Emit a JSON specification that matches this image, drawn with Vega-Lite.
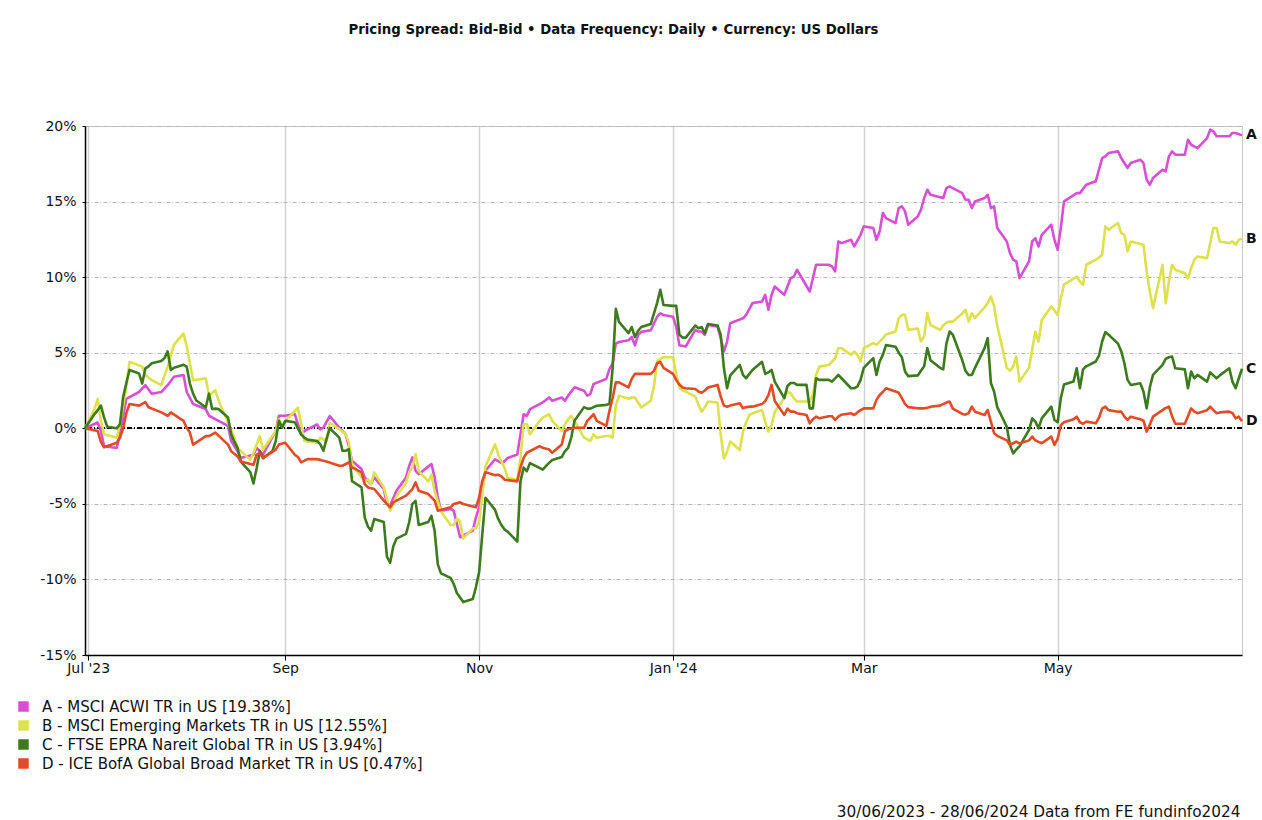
{
"$schema": "https://vega.github.io/schema/vega-lite/v6.json",
"width": 1157, "height": 529,
"autosize": {"type": "none"},
"padding": {"left": 85, "top": 126, "right": 20, "bottom": 165},
"background": "white",
"config": {"font": "DejaVu Sans", "view": {"stroke": "#c8c8c8", "strokeWidth": 1}},
"title": {"text": "Pricing Spread: Bid-Bid • Data Frequency: Daily • Currency: US Dollars", "anchor": "middle", "frame": "group", "dx": -50, "offset": 83, "fontSize": 13.3, "fontWeight": "bold", "font": "DejaVu Sans", "color": "#111"},
"data": {"values": [
{"date":"2023-06-30","series":"A","value":0},{"date":"2023-07-04","series":"A","value":0.38},{"date":"2023-07-05","series":"A","value":-0.18},{"date":"2023-07-06","series":"A","value":-1.19},{"date":"2023-07-10","series":"A","value":-1.3},{"date":"2023-07-11","series":"A","value":-0.4},{"date":"2023-07-13","series":"A","value":1.95},{"date":"2023-07-17","series":"A","value":2.4},{"date":"2023-07-19","series":"A","value":2.85},{"date":"2023-07-21","series":"A","value":2.29},{"date":"2023-07-24","series":"A","value":2.4},{"date":"2023-07-26","series":"A","value":2.85},{"date":"2023-07-28","series":"A","value":3.41},{"date":"2023-07-31","series":"A","value":3.52},{"date":"2023-08-01","series":"A","value":2.4},{"date":"2023-08-03","series":"A","value":1.61},{"date":"2023-08-07","series":"A","value":1.28},{"date":"2023-08-08","series":"A","value":0.83},{"date":"2023-08-10","series":"A","value":0.6},{"date":"2023-08-14","series":"A","value":0.16},{"date":"2023-08-15","series":"A","value":-0.85},{"date":"2023-08-17","series":"A","value":-1.52},{"date":"2023-08-18","series":"A","value":-1.97},{"date":"2023-08-22","series":"A","value":-1.75},{"date":"2023-08-23","series":"A","value":-1.3},{"date":"2023-08-24","series":"A","value":-1.52},{"date":"2023-08-25","series":"A","value":-1.75},{"date":"2023-08-29","series":"A","value":-0.18},{"date":"2023-08-30","series":"A","value":0.83},{"date":"2023-09-01","series":"A","value":0.83},{"date":"2023-09-04","series":"A","value":0.94},{"date":"2023-09-06","series":"A","value":-0.4},{"date":"2023-09-07","series":"A","value":-0.18},{"date":"2023-09-11","series":"A","value":0.26},{"date":"2023-09-12","series":"A","value":-0.07},{"date":"2023-09-13","series":"A","value":0.04},{"date":"2023-09-15","series":"A","value":0.81},{"date":"2023-09-18","series":"A","value":0.04},{"date":"2023-09-20","series":"A","value":-0.4},{"date":"2023-09-21","series":"A","value":-1.16},{"date":"2023-09-22","series":"A","value":-2.15},{"date":"2023-09-25","series":"A","value":-2.7},{"date":"2023-09-26","series":"A","value":-3.25},{"date":"2023-09-28","series":"A","value":-3.69},{"date":"2023-09-29","series":"A","value":-3.25},{"date":"2023-10-02","series":"A","value":-4.02},{"date":"2023-10-03","series":"A","value":-5.01},{"date":"2023-10-04","series":"A","value":-5.1},{"date":"2023-10-06","series":"A","value":-4.13},{"date":"2023-10-09","series":"A","value":-3.25},{"date":"2023-10-10","series":"A","value":-2.48},{"date":"2023-10-11","series":"A","value":-1.93},{"date":"2023-10-12","series":"A","value":-2.81},{"date":"2023-10-13","series":"A","value":-3.03},{"date":"2023-10-17","series":"A","value":-2.37},{"date":"2023-10-18","series":"A","value":-3.25},{"date":"2023-10-19","series":"A","value":-4.57},{"date":"2023-10-20","series":"A","value":-5.45},{"date":"2023-10-23","series":"A","value":-5.34},{"date":"2023-10-24","series":"A","value":-5.45},{"date":"2023-10-25","series":"A","value":-6.33},{"date":"2023-10-26","series":"A","value":-7.21},{"date":"2023-10-30","series":"A","value":-6.77},{"date":"2023-10-31","series":"A","value":-5.89},{"date":"2023-11-01","series":"A","value":-5.23},{"date":"2023-11-02","series":"A","value":-3.91},{"date":"2023-11-03","series":"A","value":-2.81},{"date":"2023-11-06","series":"A","value":-2.05},{"date":"2023-11-08","series":"A","value":-2.29},{"date":"2023-11-09","series":"A","value":-2.18},{"date":"2023-11-10","series":"A","value":-1.96},{"date":"2023-11-13","series":"A","value":-1.73},{"date":"2023-11-14","series":"A","value":-0.4},{"date":"2023-11-15","series":"A","value":0.93},{"date":"2023-11-16","series":"A","value":0.82},{"date":"2023-11-17","series":"A","value":1.27},{"date":"2023-11-20","series":"A","value":1.6},{"date":"2023-11-21","series":"A","value":1.71},{"date":"2023-11-23","series":"A","value":2.04},{"date":"2023-11-24","series":"A","value":1.82},{"date":"2023-11-27","series":"A","value":2.04},{"date":"2023-11-28","series":"A","value":1.82},{"date":"2023-11-29","series":"A","value":2.16},{"date":"2023-12-01","series":"A","value":2.71},{"date":"2023-12-04","series":"A","value":2.49},{"date":"2023-12-05","series":"A","value":2.16},{"date":"2023-12-06","series":"A","value":2.27},{"date":"2023-12-07","series":"A","value":2.93},{"date":"2023-12-11","series":"A","value":3.27},{"date":"2023-12-12","series":"A","value":3.93},{"date":"2023-12-13","series":"A","value":4.27},{"date":"2023-12-14","series":"A","value":5.6},{"date":"2023-12-15","series":"A","value":5.71},{"date":"2023-12-18","series":"A","value":5.82},{"date":"2023-12-19","series":"A","value":6.04},{"date":"2023-12-20","series":"A","value":5.49},{"date":"2023-12-21","series":"A","value":6.16},{"date":"2023-12-22","series":"A","value":6.38},{"date":"2023-12-25","series":"A","value":6.49},{"date":"2023-12-26","series":"A","value":6.93},{"date":"2023-12-27","series":"A","value":7.38},{"date":"2023-12-28","series":"A","value":7.6},{"date":"2023-12-29","series":"A","value":7.49},{"date":"2024-01-01","series":"A","value":7.38},{"date":"2024-01-02","series":"A","value":6.71},{"date":"2024-01-03","series":"A","value":5.49},{"date":"2024-01-05","series":"A","value":5.41},{"date":"2024-01-08","series":"A","value":6.51},{"date":"2024-01-09","series":"A","value":6.4},{"date":"2024-01-10","series":"A","value":6.4},{"date":"2024-01-11","series":"A","value":6.18},{"date":"2024-01-12","series":"A","value":6.84},{"date":"2024-01-15","series":"A","value":6.73},{"date":"2024-01-16","series":"A","value":5.96},{"date":"2024-01-17","series":"A","value":5.08},{"date":"2024-01-18","series":"A","value":5.74},{"date":"2024-01-19","series":"A","value":6.95},{"date":"2024-01-23","series":"A","value":7.28},{"date":"2024-01-24","series":"A","value":7.51},{"date":"2024-01-26","series":"A","value":8.28},{"date":"2024-01-29","series":"A","value":8.39},{"date":"2024-01-30","series":"A","value":8.83},{"date":"2024-01-31","series":"A","value":7.84},{"date":"2024-02-01","series":"A","value":8.83},{"date":"2024-02-02","series":"A","value":9.38},{"date":"2024-02-05","series":"A","value":8.83},{"date":"2024-02-07","series":"A","value":9.93},{"date":"2024-02-08","series":"A","value":10.04},{"date":"2024-02-09","series":"A","value":10.49},{"date":"2024-02-13","series":"A","value":9.05},{"date":"2024-02-14","series":"A","value":9.93},{"date":"2024-02-15","series":"A","value":10.82},{"date":"2024-02-19","series":"A","value":10.82},{"date":"2024-02-20","series":"A","value":10.71},{"date":"2024-02-21","series":"A","value":10.38},{"date":"2024-02-22","series":"A","value":12.36},{"date":"2024-02-23","series":"A","value":12.25},{"date":"2024-02-26","series":"A","value":12.47},{"date":"2024-02-27","series":"A","value":12.03},{"date":"2024-02-29","series":"A","value":12.8},{"date":"2024-03-01","series":"A","value":13.36},{"date":"2024-03-04","series":"A","value":13.25},{"date":"2024-03-05","series":"A","value":12.47},{"date":"2024-03-06","series":"A","value":13.02},{"date":"2024-03-07","series":"A","value":14.24},{"date":"2024-03-08","series":"A","value":13.91},{"date":"2024-03-11","series":"A","value":13.58},{"date":"2024-03-12","series":"A","value":14.57},{"date":"2024-03-13","series":"A","value":14.68},{"date":"2024-03-14","series":"A","value":14.35},{"date":"2024-03-15","series":"A","value":13.47},{"date":"2024-03-18","series":"A","value":14.02},{"date":"2024-03-19","series":"A","value":14.46},{"date":"2024-03-20","series":"A","value":15.23},{"date":"2024-03-21","series":"A","value":15.78},{"date":"2024-03-22","series":"A","value":15.45},{"date":"2024-03-26","series":"A","value":15.23},{"date":"2024-03-27","series":"A","value":15.89},{"date":"2024-03-28","series":"A","value":16.0},{"date":"2024-03-29","series":"A","value":15.89},{"date":"2024-04-01","series":"A","value":15.56},{"date":"2024-04-02","series":"A","value":15.12},{"date":"2024-04-03","series":"A","value":15.12},{"date":"2024-04-04","series":"A","value":14.57},{"date":"2024-04-05","series":"A","value":15.01},{"date":"2024-04-08","series":"A","value":15.23},{"date":"2024-04-09","series":"A","value":15.45},{"date":"2024-04-10","series":"A","value":14.57},{"date":"2024-04-11","series":"A","value":14.68},{"date":"2024-04-12","series":"A","value":13.25},{"date":"2024-04-15","series":"A","value":12.36},{"date":"2024-04-16","series":"A","value":11.59},{"date":"2024-04-17","series":"A","value":11.15},{"date":"2024-04-18","series":"A","value":11.04},{"date":"2024-04-19","series":"A","value":9.93},{"date":"2024-04-22","series":"A","value":11.04},{"date":"2024-04-23","series":"A","value":12.36},{"date":"2024-04-24","series":"A","value":12.58},{"date":"2024-04-25","series":"A","value":12.03},{"date":"2024-04-26","series":"A","value":12.8},{"date":"2024-04-29","series":"A","value":13.47},{"date":"2024-04-30","series":"A","value":12.47},{"date":"2024-05-01","series":"A","value":11.81},{"date":"2024-05-02","series":"A","value":13.25},{"date":"2024-05-03","series":"A","value":15.01},{"date":"2024-05-07","series":"A","value":15.56},{"date":"2024-05-08","series":"A","value":15.56},{"date":"2024-05-10","series":"A","value":16.11},{"date":"2024-05-13","series":"A","value":16.34},{"date":"2024-05-14","series":"A","value":17.11},{"date":"2024-05-15","series":"A","value":17.88},{"date":"2024-05-16","series":"A","value":17.99},{"date":"2024-05-17","series":"A","value":18.21},{"date":"2024-05-20","series":"A","value":18.32},{"date":"2024-05-21","series":"A","value":17.88},{"date":"2024-05-23","series":"A","value":17.22},{"date":"2024-05-24","series":"A","value":17.55},{"date":"2024-05-27","series":"A","value":17.77},{"date":"2024-05-28","series":"A","value":17.55},{"date":"2024-05-29","series":"A","value":16.45},{"date":"2024-05-30","series":"A","value":16.11},{"date":"2024-05-31","series":"A","value":16.56},{"date":"2024-06-03","series":"A","value":17.11},{"date":"2024-06-04","series":"A","value":17.0},{"date":"2024-06-05","series":"A","value":17.99},{"date":"2024-06-06","series":"A","value":18.32},{"date":"2024-06-07","series":"A","value":18.1},{"date":"2024-06-10","series":"A","value":18.1},{"date":"2024-06-11","series":"A","value":19.09},{"date":"2024-06-12","series":"A","value":18.76},{"date":"2024-06-14","series":"A","value":18.54},{"date":"2024-06-17","series":"A","value":19.2},{"date":"2024-06-18","series":"A","value":19.76},{"date":"2024-06-19","series":"A","value":19.65},{"date":"2024-06-20","series":"A","value":19.32},{"date":"2024-06-24","series":"A","value":19.32},{"date":"2024-06-25","series":"A","value":19.54},{"date":"2024-06-26","series":"A","value":19.54},{"date":"2024-06-28","series":"A","value":19.38},
{"date":"2023-06-30","series":"B","value":0},{"date":"2023-07-03","series":"B","value":1.28},{"date":"2023-07-04","series":"B","value":1.95},{"date":"2023-07-05","series":"B","value":0.49},{"date":"2023-07-06","series":"B","value":-0.4},{"date":"2023-07-10","series":"B","value":-0.63},{"date":"2023-07-11","series":"B","value":0.27},{"date":"2023-07-13","series":"B","value":2.73},{"date":"2023-07-14","series":"B","value":4.4},{"date":"2023-07-18","series":"B","value":4.08},{"date":"2023-07-19","series":"B","value":3.52},{"date":"2023-07-21","series":"B","value":3.18},{"date":"2023-07-24","series":"B","value":2.85},{"date":"2023-07-26","series":"B","value":4.08},{"date":"2023-07-28","series":"B","value":5.54},{"date":"2023-07-31","series":"B","value":6.28},{"date":"2023-08-01","series":"B","value":5.43},{"date":"2023-08-03","series":"B","value":3.18},{"date":"2023-08-07","series":"B","value":3.3},{"date":"2023-08-08","series":"B","value":2.17},{"date":"2023-08-10","series":"B","value":2.51},{"date":"2023-08-11","series":"B","value":1.84},{"date":"2023-08-14","series":"B","value":0.38},{"date":"2023-08-16","series":"B","value":-0.63},{"date":"2023-08-17","series":"B","value":-1.3},{"date":"2023-08-21","series":"B","value":-2.09},{"date":"2023-08-22","series":"B","value":-1.64},{"date":"2023-08-24","series":"B","value":-0.52},{"date":"2023-08-25","series":"B","value":-1.41},{"date":"2023-08-29","series":"B","value":-0.18},{"date":"2023-08-30","series":"B","value":0.6},{"date":"2023-08-31","series":"B","value":0.2},{"date":"2023-09-01","series":"B","value":0.48},{"date":"2023-09-05","series":"B","value":1.36},{"date":"2023-09-06","series":"B","value":0.26},{"date":"2023-09-07","series":"B","value":-0.84},{"date":"2023-09-11","series":"B","value":-0.95},{"date":"2023-09-12","series":"B","value":-0.62},{"date":"2023-09-14","series":"B","value":-0.84},{"date":"2023-09-15","series":"B","value":0.37},{"date":"2023-09-18","series":"B","value":-0.07},{"date":"2023-09-20","series":"B","value":-0.4},{"date":"2023-09-21","series":"B","value":-0.95},{"date":"2023-09-22","series":"B","value":-2.37},{"date":"2023-09-25","series":"B","value":-3.25},{"date":"2023-09-26","series":"B","value":-3.58},{"date":"2023-09-27","series":"B","value":-3.36},{"date":"2023-09-28","series":"B","value":-3.69},{"date":"2023-09-29","series":"B","value":-2.92},{"date":"2023-10-02","series":"B","value":-3.91},{"date":"2023-10-04","series":"B","value":-5.45},{"date":"2023-10-05","series":"B","value":-5.0},{"date":"2023-10-06","series":"B","value":-4.5},{"date":"2023-10-09","series":"B","value":-3.6},{"date":"2023-10-10","series":"B","value":-2.9},{"date":"2023-10-11","series":"B","value":-2.6},{"date":"2023-10-12","series":"B","value":-1.72},{"date":"2023-10-13","series":"B","value":-2.84},{"date":"2023-10-16","series":"B","value":-3.51},{"date":"2023-10-17","series":"B","value":-3.07},{"date":"2023-10-18","series":"B","value":-4.18},{"date":"2023-10-20","series":"B","value":-5.51},{"date":"2023-10-23","series":"B","value":-6.4},{"date":"2023-10-24","series":"B","value":-6.4},{"date":"2023-10-25","series":"B","value":-5.96},{"date":"2023-10-26","series":"B","value":-6.18},{"date":"2023-10-27","series":"B","value":-7.29},{"date":"2023-10-30","series":"B","value":-6.62},{"date":"2023-10-31","series":"B","value":-6.62},{"date":"2023-11-01","series":"B","value":-6.18},{"date":"2023-11-02","series":"B","value":-4.4},{"date":"2023-11-03","series":"B","value":-2.51},{"date":"2023-11-06","series":"B","value":-1.07},{"date":"2023-11-07","series":"B","value":-1.73},{"date":"2023-11-08","series":"B","value":-2.18},{"date":"2023-11-09","series":"B","value":-2.62},{"date":"2023-11-10","series":"B","value":-3.29},{"date":"2023-11-13","series":"B","value":-3.4},{"date":"2023-11-14","series":"B","value":-1.96},{"date":"2023-11-15","series":"B","value":0.27},{"date":"2023-11-16","series":"B","value":0.27},{"date":"2023-11-17","series":"B","value":-0.4},{"date":"2023-11-20","series":"B","value":0.49},{"date":"2023-11-21","series":"B","value":0.71},{"date":"2023-11-22","series":"B","value":0.82},{"date":"2023-11-23","series":"B","value":0.93},{"date":"2023-11-24","series":"B","value":0.49},{"date":"2023-11-27","series":"B","value":-0.18},{"date":"2023-11-28","series":"B","value":0.27},{"date":"2023-11-29","series":"B","value":0.6},{"date":"2023-11-30","series":"B","value":0.82},{"date":"2023-12-01","series":"B","value":0.49},{"date":"2023-12-04","series":"B","value":-0.62},{"date":"2023-12-06","series":"B","value":-0.84},{"date":"2023-12-07","series":"B","value":-0.4},{"date":"2023-12-08","series":"B","value":-0.62},{"date":"2023-12-11","series":"B","value":-0.51},{"date":"2023-12-12","series":"B","value":-0.51},{"date":"2023-12-13","series":"B","value":-0.62},{"date":"2023-12-14","series":"B","value":1.5},{"date":"2023-12-15","series":"B","value":2.16},{"date":"2023-12-18","series":"B","value":1.95},{"date":"2023-12-19","series":"B","value":2.04},{"date":"2023-12-20","series":"B","value":2.04},{"date":"2023-12-21","series":"B","value":1.71},{"date":"2023-12-22","series":"B","value":1.38},{"date":"2023-12-25","series":"B","value":1.82},{"date":"2023-12-26","series":"B","value":2.8},{"date":"2023-12-27","series":"B","value":4.42},{"date":"2023-12-28","series":"B","value":4.6},{"date":"2023-12-29","series":"B","value":4.71},{"date":"2024-01-01","series":"B","value":4.7},{"date":"2024-01-02","series":"B","value":3.6},{"date":"2024-01-03","series":"B","value":2.7},{"date":"2024-01-04","series":"B","value":2.5},{"date":"2024-01-05","series":"B","value":2.43},{"date":"2024-01-08","series":"B","value":2.1},{"date":"2024-01-09","series":"B","value":1.55},{"date":"2024-01-10","series":"B","value":1.1},{"date":"2024-01-11","series":"B","value":1.4},{"date":"2024-01-12","series":"B","value":1.77},{"date":"2024-01-15","series":"B","value":1.7},{"date":"2024-01-16","series":"B","value":-0.44},{"date":"2024-01-17","series":"B","value":-1.99},{"date":"2024-01-18","series":"B","value":-1.55},{"date":"2024-01-19","series":"B","value":-0.88},{"date":"2024-01-22","series":"B","value":-1.44},{"date":"2024-01-23","series":"B","value":-0.22},{"date":"2024-01-24","series":"B","value":0.4},{"date":"2024-01-25","series":"B","value":0.88},{"date":"2024-01-26","series":"B","value":0.99},{"date":"2024-01-29","series":"B","value":1.21},{"date":"2024-01-30","series":"B","value":0.44},{"date":"2024-01-31","series":"B","value":-0.22},{"date":"2024-02-01","series":"B","value":0.22},{"date":"2024-02-02","series":"B","value":1.1},{"date":"2024-02-05","series":"B","value":1.99},{"date":"2024-02-06","series":"B","value":2.43},{"date":"2024-02-07","series":"B","value":2.33},{"date":"2024-02-08","series":"B","value":1.99},{"date":"2024-02-09","series":"B","value":1.77},{"date":"2024-02-12","series":"B","value":1.77},{"date":"2024-02-13","series":"B","value":1.8},{"date":"2024-02-14","series":"B","value":2.21},{"date":"2024-02-15","series":"B","value":3.53},{"date":"2024-02-16","series":"B","value":4.08},{"date":"2024-02-19","series":"B","value":4.19},{"date":"2024-02-20","series":"B","value":4.4},{"date":"2024-02-21","series":"B","value":4.64},{"date":"2024-02-22","series":"B","value":5.3},{"date":"2024-02-23","series":"B","value":5.3},{"date":"2024-02-26","series":"B","value":4.86},{"date":"2024-02-27","series":"B","value":5.08},{"date":"2024-02-28","series":"B","value":4.86},{"date":"2024-02-29","series":"B","value":4.42},{"date":"2024-03-01","series":"B","value":5.3},{"date":"2024-03-04","series":"B","value":5.63},{"date":"2024-03-05","series":"B","value":5.52},{"date":"2024-03-06","series":"B","value":5.74},{"date":"2024-03-07","series":"B","value":5.96},{"date":"2024-03-08","series":"B","value":6.2},{"date":"2024-03-11","series":"B","value":6.4},{"date":"2024-03-12","series":"B","value":7.28},{"date":"2024-03-13","series":"B","value":7.51},{"date":"2024-03-14","series":"B","value":7.51},{"date":"2024-03-15","series":"B","value":6.51},{"date":"2024-03-18","series":"B","value":6.6},{"date":"2024-03-19","series":"B","value":5.74},{"date":"2024-03-20","series":"B","value":6.07},{"date":"2024-03-21","series":"B","value":7.62},{"date":"2024-03-22","series":"B","value":6.84},{"date":"2024-03-25","series":"B","value":6.51},{"date":"2024-03-26","series":"B","value":6.8},{"date":"2024-03-27","series":"B","value":7.0},{"date":"2024-03-28","series":"B","value":7.06},{"date":"2024-03-29","series":"B","value":7.06},{"date":"2024-04-01","series":"B","value":7.6},{"date":"2024-04-02","series":"B","value":7.84},{"date":"2024-04-03","series":"B","value":7.06},{"date":"2024-04-04","series":"B","value":7.62},{"date":"2024-04-05","series":"B","value":7.3},{"date":"2024-04-08","series":"B","value":8.0},{"date":"2024-04-09","series":"B","value":8.28},{"date":"2024-04-10","series":"B","value":8.72},{"date":"2024-04-11","series":"B","value":8.1},{"date":"2024-04-12","series":"B","value":6.8},{"date":"2024-04-15","series":"B","value":4.0},{"date":"2024-04-16","series":"B","value":3.8},{"date":"2024-04-17","series":"B","value":4.08},{"date":"2024-04-18","series":"B","value":4.75},{"date":"2024-04-19","series":"B","value":3.09},{"date":"2024-04-22","series":"B","value":4.0},{"date":"2024-04-23","series":"B","value":5.2},{"date":"2024-04-24","series":"B","value":6.4},{"date":"2024-04-25","series":"B","value":5.74},{"date":"2024-04-26","series":"B","value":7.17},{"date":"2024-04-29","series":"B","value":8.06},{"date":"2024-04-30","series":"B","value":7.8},{"date":"2024-05-01","series":"B","value":7.5},{"date":"2024-05-02","series":"B","value":8.61},{"date":"2024-05-03","series":"B","value":9.5},{"date":"2024-05-06","series":"B","value":9.9},{"date":"2024-05-07","series":"B","value":10.04},{"date":"2024-05-08","series":"B","value":9.71},{"date":"2024-05-09","series":"B","value":9.49},{"date":"2024-05-10","series":"B","value":10.82},{"date":"2024-05-13","series":"B","value":11.15},{"date":"2024-05-14","series":"B","value":11.3},{"date":"2024-05-15","series":"B","value":11.48},{"date":"2024-05-16","series":"B","value":13.36},{"date":"2024-05-17","series":"B","value":13.14},{"date":"2024-05-20","series":"B","value":13.58},{"date":"2024-05-21","series":"B","value":12.91},{"date":"2024-05-22","series":"B","value":12.8},{"date":"2024-05-23","series":"B","value":11.7},{"date":"2024-05-24","series":"B","value":12.36},{"date":"2024-05-28","series":"B","value":12.14},{"date":"2024-05-29","series":"B","value":10.38},{"date":"2024-05-30","series":"B","value":9.05},{"date":"2024-05-31","series":"B","value":7.95},{"date":"2024-06-03","series":"B","value":10.82},{"date":"2024-06-04","series":"B","value":8.28},{"date":"2024-06-05","series":"B","value":9.71},{"date":"2024-06-06","series":"B","value":10.82},{"date":"2024-06-07","series":"B","value":10.49},{"date":"2024-06-10","series":"B","value":10.26},{"date":"2024-06-11","series":"B","value":9.93},{"date":"2024-06-12","series":"B","value":10.6},{"date":"2024-06-13","series":"B","value":11.15},{"date":"2024-06-14","series":"B","value":11.37},{"date":"2024-06-17","series":"B","value":11.26},{"date":"2024-06-19","series":"B","value":13.25},{"date":"2024-06-20","series":"B","value":13.25},{"date":"2024-06-21","series":"B","value":12.36},{"date":"2024-06-24","series":"B","value":12.25},{"date":"2024-06-25","series":"B","value":12.36},{"date":"2024-06-26","series":"B","value":12.14},{"date":"2024-06-27","series":"B","value":12.47},{"date":"2024-06-28","series":"B","value":12.55},
{"date":"2023-06-30","series":"C","value":0},{"date":"2023-07-03","series":"C","value":0.94},{"date":"2023-07-04","series":"C","value":1.2},{"date":"2023-07-05","series":"C","value":1.5},{"date":"2023-07-06","series":"C","value":0.72},{"date":"2023-07-07","series":"C","value":0.1},{"date":"2023-07-10","series":"C","value":0.0},{"date":"2023-07-11","series":"C","value":0.27},{"date":"2023-07-12","series":"C","value":2.06},{"date":"2023-07-13","series":"C","value":3.0},{"date":"2023-07-14","series":"C","value":3.86},{"date":"2023-07-17","series":"C","value":3.63},{"date":"2023-07-18","series":"C","value":2.96},{"date":"2023-07-19","series":"C","value":3.97},{"date":"2023-07-20","series":"C","value":4.1},{"date":"2023-07-21","series":"C","value":4.3},{"date":"2023-07-24","series":"C","value":4.45},{"date":"2023-07-25","series":"C","value":4.64},{"date":"2023-07-26","series":"C","value":5.09},{"date":"2023-07-27","series":"C","value":3.86},{"date":"2023-07-28","series":"C","value":4.0},{"date":"2023-07-31","series":"C","value":4.2},{"date":"2023-08-01","series":"C","value":4.08},{"date":"2023-08-02","series":"C","value":2.96},{"date":"2023-08-03","series":"C","value":2.3},{"date":"2023-08-04","series":"C","value":1.84},{"date":"2023-08-07","series":"C","value":1.39},{"date":"2023-08-08","series":"C","value":2.29},{"date":"2023-08-09","series":"C","value":1.28},{"date":"2023-08-10","series":"C","value":1.3},{"date":"2023-08-11","series":"C","value":1.28},{"date":"2023-08-14","series":"C","value":0.72},{"date":"2023-08-15","series":"C","value":-0.4},{"date":"2023-08-16","series":"C","value":-0.9},{"date":"2023-08-17","series":"C","value":-1.3},{"date":"2023-08-18","series":"C","value":-2.2},{"date":"2023-08-21","series":"C","value":-2.9},{"date":"2023-08-22","series":"C","value":-3.65},{"date":"2023-08-23","series":"C","value":-2.65},{"date":"2023-08-24","series":"C","value":-1.52},{"date":"2023-08-25","series":"C","value":-1.97},{"date":"2023-08-28","series":"C","value":-1.5},{"date":"2023-08-29","series":"C","value":-0.85},{"date":"2023-08-30","series":"C","value":0.49},{"date":"2023-08-31","series":"C","value":0.04},{"date":"2023-09-01","series":"C","value":0.49},{"date":"2023-09-04","series":"C","value":0.4},{"date":"2023-09-05","series":"C","value":0.0},{"date":"2023-09-06","series":"C","value":-0.4},{"date":"2023-09-07","series":"C","value":-0.62},{"date":"2023-09-08","series":"C","value":-0.75},{"date":"2023-09-11","series":"C","value":-0.84},{"date":"2023-09-12","series":"C","value":-1.05},{"date":"2023-09-13","series":"C","value":-1.49},{"date":"2023-09-14","series":"C","value":-0.7},{"date":"2023-09-15","series":"C","value":0.0},{"date":"2023-09-18","series":"C","value":-0.62},{"date":"2023-09-19","series":"C","value":-1.49},{"date":"2023-09-20","series":"C","value":-1.49},{"date":"2023-09-21","series":"C","value":-1.38},{"date":"2023-09-22","series":"C","value":-3.5},{"date":"2023-09-25","series":"C","value":-3.91},{"date":"2023-09-26","series":"C","value":-5.89},{"date":"2023-09-27","series":"C","value":-6.5},{"date":"2023-09-28","series":"C","value":-6.77},{"date":"2023-09-29","series":"C","value":-6.0},{"date":"2023-10-02","series":"C","value":-6.2},{"date":"2023-10-03","series":"C","value":-8.5},{"date":"2023-10-04","series":"C","value":-8.9},{"date":"2023-10-05","series":"C","value":-7.8},{"date":"2023-10-06","series":"C","value":-7.3},{"date":"2023-10-09","series":"C","value":-6.99},{"date":"2023-10-10","series":"C","value":-6.2},{"date":"2023-10-11","series":"C","value":-5.0},{"date":"2023-10-12","series":"C","value":-4.8},{"date":"2023-10-13","series":"C","value":-6.4},{"date":"2023-10-16","series":"C","value":-6.2},{"date":"2023-10-17","series":"C","value":-5.8},{"date":"2023-10-18","series":"C","value":-6.8},{"date":"2023-10-19","series":"C","value":-9.0},{"date":"2023-10-20","series":"C","value":-9.6},{"date":"2023-10-23","series":"C","value":-9.9},{"date":"2023-10-24","series":"C","value":-10.3},{"date":"2023-10-25","series":"C","value":-10.9},{"date":"2023-10-26","series":"C","value":-11.2},{"date":"2023-10-27","series":"C","value":-11.5},{"date":"2023-10-30","series":"C","value":-11.3},{"date":"2023-10-31","series":"C","value":-10.5},{"date":"2023-11-01","series":"C","value":-9.5},{"date":"2023-11-02","series":"C","value":-7.0},{"date":"2023-11-03","series":"C","value":-4.6},{"date":"2023-11-06","series":"C","value":-5.4},{"date":"2023-11-07","series":"C","value":-6.0},{"date":"2023-11-08","series":"C","value":-6.4},{"date":"2023-11-09","series":"C","value":-6.7},{"date":"2023-11-10","series":"C","value":-6.84},{"date":"2023-11-13","series":"C","value":-7.5},{"date":"2023-11-14","series":"C","value":-3.5},{"date":"2023-11-15","series":"C","value":-2.6},{"date":"2023-11-16","series":"C","value":-2.84},{"date":"2023-11-17","series":"C","value":-2.3},{"date":"2023-11-20","series":"C","value":-2.62},{"date":"2023-11-21","series":"C","value":-2.73},{"date":"2023-11-22","series":"C","value":-2.5},{"date":"2023-11-23","series":"C","value":-2.29},{"date":"2023-11-24","series":"C","value":-2.1},{"date":"2023-11-27","series":"C","value":-1.9},{"date":"2023-11-28","series":"C","value":-1.51},{"date":"2023-11-29","series":"C","value":-1.3},{"date":"2023-11-30","series":"C","value":-0.6},{"date":"2023-12-01","series":"C","value":0.5},{"date":"2023-12-04","series":"C","value":1.4},{"date":"2023-12-05","series":"C","value":1.3},{"date":"2023-12-06","series":"C","value":1.3},{"date":"2023-12-07","series":"C","value":1.4},{"date":"2023-12-08","series":"C","value":1.49},{"date":"2023-12-11","series":"C","value":1.55},{"date":"2023-12-12","series":"C","value":1.6},{"date":"2023-12-13","series":"C","value":4.0},{"date":"2023-12-14","series":"C","value":7.9},{"date":"2023-12-15","series":"C","value":7.04},{"date":"2023-12-18","series":"C","value":6.3},{"date":"2023-12-19","series":"C","value":6.7},{"date":"2023-12-20","series":"C","value":6.04},{"date":"2023-12-21","series":"C","value":6.45},{"date":"2023-12-22","series":"C","value":6.7},{"date":"2023-12-25","series":"C","value":6.9},{"date":"2023-12-26","series":"C","value":7.6},{"date":"2023-12-27","series":"C","value":8.3},{"date":"2023-12-28","series":"C","value":9.16},{"date":"2023-12-29","series":"C","value":8.16},{"date":"2024-01-01","series":"C","value":8.1},{"date":"2024-01-02","series":"C","value":8.1},{"date":"2024-01-03","series":"C","value":6.2},{"date":"2024-01-04","series":"C","value":6.0},{"date":"2024-01-05","series":"C","value":6.0},{"date":"2024-01-08","series":"C","value":6.8},{"date":"2024-01-09","series":"C","value":6.62},{"date":"2024-01-10","series":"C","value":6.7},{"date":"2024-01-11","series":"C","value":6.29},{"date":"2024-01-12","series":"C","value":6.9},{"date":"2024-01-15","series":"C","value":6.8},{"date":"2024-01-16","series":"C","value":6.2},{"date":"2024-01-17","series":"C","value":4.0},{"date":"2024-01-18","series":"C","value":2.65},{"date":"2024-01-19","series":"C","value":3.5},{"date":"2024-01-22","series":"C","value":4.19},{"date":"2024-01-23","series":"C","value":3.53},{"date":"2024-01-24","series":"C","value":3.31},{"date":"2024-01-25","series":"C","value":3.6},{"date":"2024-01-26","series":"C","value":3.86},{"date":"2024-01-29","series":"C","value":4.4},{"date":"2024-01-30","series":"C","value":3.6},{"date":"2024-01-31","series":"C","value":3.7},{"date":"2024-02-01","series":"C","value":3.86},{"date":"2024-02-02","series":"C","value":3.09},{"date":"2024-02-05","series":"C","value":2.0},{"date":"2024-02-06","series":"C","value":2.8},{"date":"2024-02-07","series":"C","value":3.0},{"date":"2024-02-08","series":"C","value":3.0},{"date":"2024-02-09","series":"C","value":2.87},{"date":"2024-02-12","series":"C","value":2.87},{"date":"2024-02-13","series":"C","value":1.32},{"date":"2024-02-14","series":"C","value":1.32},{"date":"2024-02-15","series":"C","value":3.31},{"date":"2024-02-16","series":"C","value":3.2},{"date":"2024-02-19","series":"C","value":3.2},{"date":"2024-02-20","series":"C","value":3.09},{"date":"2024-02-21","series":"C","value":3.3},{"date":"2024-02-22","series":"C","value":3.53},{"date":"2024-02-23","series":"C","value":3.31},{"date":"2024-02-26","series":"C","value":2.65},{"date":"2024-02-27","series":"C","value":2.65},{"date":"2024-02-28","series":"C","value":2.76},{"date":"2024-02-29","series":"C","value":3.2},{"date":"2024-03-01","series":"C","value":4.0},{"date":"2024-03-04","series":"C","value":4.64},{"date":"2024-03-05","series":"C","value":3.53},{"date":"2024-03-06","series":"C","value":4.42},{"date":"2024-03-07","series":"C","value":4.86},{"date":"2024-03-08","series":"C","value":5.5},{"date":"2024-03-11","series":"C","value":5.4},{"date":"2024-03-12","series":"C","value":5.0},{"date":"2024-03-13","series":"C","value":4.7},{"date":"2024-03-14","series":"C","value":3.75},{"date":"2024-03-15","series":"C","value":3.45},{"date":"2024-03-18","series":"C","value":3.5},{"date":"2024-03-19","series":"C","value":3.8},{"date":"2024-03-20","series":"C","value":4.1},{"date":"2024-03-21","series":"C","value":5.3},{"date":"2024-03-22","series":"C","value":4.5},{"date":"2024-03-25","series":"C","value":4.0},{"date":"2024-03-26","series":"C","value":3.9},{"date":"2024-03-27","series":"C","value":5.6},{"date":"2024-03-28","series":"C","value":6.4},{"date":"2024-03-29","series":"C","value":6.2},{"date":"2024-04-01","series":"C","value":4.5},{"date":"2024-04-02","series":"C","value":3.8},{"date":"2024-04-03","series":"C","value":3.53},{"date":"2024-04-04","series":"C","value":3.53},{"date":"2024-04-05","series":"C","value":4.0},{"date":"2024-04-08","series":"C","value":5.3},{"date":"2024-04-09","series":"C","value":5.96},{"date":"2024-04-10","series":"C","value":3.0},{"date":"2024-04-11","series":"C","value":2.43},{"date":"2024-04-12","series":"C","value":1.4},{"date":"2024-04-15","series":"C","value":0.1},{"date":"2024-04-16","series":"C","value":-1.1},{"date":"2024-04-17","series":"C","value":-1.66},{"date":"2024-04-18","series":"C","value":-1.4},{"date":"2024-04-19","series":"C","value":-1.2},{"date":"2024-04-22","series":"C","value":-0.1},{"date":"2024-04-23","series":"C","value":0.66},{"date":"2024-04-24","series":"C","value":0.44},{"date":"2024-04-25","series":"C","value":0.0},{"date":"2024-04-26","series":"C","value":0.66},{"date":"2024-04-29","series":"C","value":1.43},{"date":"2024-04-30","series":"C","value":0.55},{"date":"2024-05-01","series":"C","value":0.4},{"date":"2024-05-02","series":"C","value":2.0},{"date":"2024-05-03","series":"C","value":2.9},{"date":"2024-05-06","series":"C","value":3.1},{"date":"2024-05-07","series":"C","value":3.97},{"date":"2024-05-08","series":"C","value":2.65},{"date":"2024-05-09","series":"C","value":3.9},{"date":"2024-05-10","series":"C","value":4.1},{"date":"2024-05-13","series":"C","value":4.42},{"date":"2024-05-14","series":"C","value":4.8},{"date":"2024-05-15","series":"C","value":5.74},{"date":"2024-05-16","series":"C","value":6.36},{"date":"2024-05-17","series":"C","value":6.2},{"date":"2024-05-20","series":"C","value":5.6},{"date":"2024-05-21","series":"C","value":5.1},{"date":"2024-05-22","series":"C","value":4.3},{"date":"2024-05-23","series":"C","value":3.2},{"date":"2024-05-24","series":"C","value":2.87},{"date":"2024-05-27","series":"C","value":2.98},{"date":"2024-05-28","series":"C","value":2.43},{"date":"2024-05-29","series":"C","value":1.32},{"date":"2024-05-30","series":"C","value":2.7},{"date":"2024-05-31","series":"C","value":3.53},{"date":"2024-06-03","series":"C","value":4.19},{"date":"2024-06-04","series":"C","value":4.6},{"date":"2024-06-05","series":"C","value":4.7},{"date":"2024-06-06","series":"C","value":4.75},{"date":"2024-06-07","series":"C","value":3.97},{"date":"2024-06-10","series":"C","value":3.9},{"date":"2024-06-11","series":"C","value":2.65},{"date":"2024-06-12","series":"C","value":3.75},{"date":"2024-06-13","series":"C","value":3.31},{"date":"2024-06-14","series":"C","value":3.53},{"date":"2024-06-17","series":"C","value":3.09},{"date":"2024-06-18","series":"C","value":3.7},{"date":"2024-06-19","series":"C","value":3.5},{"date":"2024-06-20","series":"C","value":3.3},{"date":"2024-06-21","series":"C","value":3.5},{"date":"2024-06-24","series":"C","value":3.97},{"date":"2024-06-25","series":"C","value":3.09},{"date":"2024-06-26","series":"C","value":2.65},{"date":"2024-06-27","series":"C","value":3.31},{"date":"2024-06-28","series":"C","value":3.94},
{"date":"2023-06-30","series":"D","value":0},{"date":"2023-07-04","series":"D","value":-0.18},{"date":"2023-07-05","series":"D","value":-0.9},{"date":"2023-07-06","series":"D","value":-1.26},{"date":"2023-07-10","series":"D","value":-0.96},{"date":"2023-07-11","series":"D","value":-0.63},{"date":"2023-07-12","series":"D","value":0.0},{"date":"2023-07-13","series":"D","value":1.0},{"date":"2023-07-14","series":"D","value":1.61},{"date":"2023-07-17","series":"D","value":1.5},{"date":"2023-07-19","series":"D","value":1.73},{"date":"2023-07-20","series":"D","value":1.39},{"date":"2023-07-24","series":"D","value":1.05},{"date":"2023-07-26","series":"D","value":0.83},{"date":"2023-07-27","series":"D","value":1.05},{"date":"2023-07-31","series":"D","value":0.49},{"date":"2023-08-01","series":"D","value":0.04},{"date":"2023-08-02","series":"D","value":-0.29},{"date":"2023-08-03","series":"D","value":-1.08},{"date":"2023-08-07","series":"D","value":-0.52},{"date":"2023-08-08","series":"D","value":-0.52},{"date":"2023-08-10","series":"D","value":-0.29},{"date":"2023-08-14","series":"D","value":-1.08},{"date":"2023-08-15","series":"D","value":-1.52},{"date":"2023-08-17","series":"D","value":-1.86},{"date":"2023-08-18","series":"D","value":-2.2},{"date":"2023-08-22","series":"D","value":-2.42},{"date":"2023-08-23","series":"D","value":-1.75},{"date":"2023-08-24","series":"D","value":-1.64},{"date":"2023-08-25","series":"D","value":-1.97},{"date":"2023-08-29","series":"D","value":-1.41},{"date":"2023-08-30","series":"D","value":-1.08},{"date":"2023-09-01","series":"D","value":-0.96},{"date":"2023-09-04","series":"D","value":-1.75},{"date":"2023-09-05","series":"D","value":-1.9},{"date":"2023-09-06","series":"D","value":-2.26},{"date":"2023-09-08","series":"D","value":-2.04},{"date":"2023-09-11","series":"D","value":-2.04},{"date":"2023-09-13","series":"D","value":-2.15},{"date":"2023-09-14","series":"D","value":-2.2},{"date":"2023-09-18","series":"D","value":-2.48},{"date":"2023-09-19","series":"D","value":-2.48},{"date":"2023-09-21","series":"D","value":-2.26},{"date":"2023-09-22","series":"D","value":-2.59},{"date":"2023-09-25","series":"D","value":-2.92},{"date":"2023-09-26","series":"D","value":-3.69},{"date":"2023-09-27","series":"D","value":-3.91},{"date":"2023-09-29","series":"D","value":-4.02},{"date":"2023-10-02","series":"D","value":-4.79},{"date":"2023-10-04","series":"D","value":-5.23},{"date":"2023-10-05","series":"D","value":-4.9},{"date":"2023-10-06","series":"D","value":-4.79},{"date":"2023-10-09","series":"D","value":-4.46},{"date":"2023-10-11","series":"D","value":-4.02},{"date":"2023-10-12","series":"D","value":-3.58},{"date":"2023-10-13","series":"D","value":-4.13},{"date":"2023-10-16","series":"D","value":-4.35},{"date":"2023-10-18","series":"D","value":-4.79},{"date":"2023-10-19","series":"D","value":-5.45},{"date":"2023-10-23","series":"D","value":-5.23},{"date":"2023-10-24","series":"D","value":-5.01},{"date":"2023-10-26","series":"D","value":-4.9},{"date":"2023-10-27","series":"D","value":-5.01},{"date":"2023-10-31","series":"D","value":-5.23},{"date":"2023-11-01","series":"D","value":-4.57},{"date":"2023-11-02","series":"D","value":-3.47},{"date":"2023-11-03","series":"D","value":-2.9},{"date":"2023-11-06","series":"D","value":-3.1},{"date":"2023-11-07","series":"D","value":-3.07},{"date":"2023-11-08","series":"D","value":-3.18},{"date":"2023-11-09","series":"D","value":-3.4},{"date":"2023-11-13","series":"D","value":-3.51},{"date":"2023-11-14","series":"D","value":-2.6},{"date":"2023-11-15","series":"D","value":-1.96},{"date":"2023-11-16","series":"D","value":-1.62},{"date":"2023-11-20","series":"D","value":-1.18},{"date":"2023-11-21","series":"D","value":-1.29},{"date":"2023-11-23","series":"D","value":-1.4},{"date":"2023-11-24","series":"D","value":-1.62},{"date":"2023-11-27","series":"D","value":-1.07},{"date":"2023-11-28","series":"D","value":-0.18},{"date":"2023-11-29","series":"D","value":-0.07},{"date":"2023-12-01","series":"D","value":0.04},{"date":"2023-12-04","series":"D","value":0.04},{"date":"2023-12-05","series":"D","value":0.49},{"date":"2023-12-06","series":"D","value":0.71},{"date":"2023-12-07","series":"D","value":0.93},{"date":"2023-12-08","series":"D","value":0.49},{"date":"2023-12-11","series":"D","value":0.16},{"date":"2023-12-12","series":"D","value":1.16},{"date":"2023-12-13","series":"D","value":2.0},{"date":"2023-12-14","series":"D","value":3.04},{"date":"2023-12-15","series":"D","value":3.04},{"date":"2023-12-18","series":"D","value":2.71},{"date":"2023-12-19","series":"D","value":3.27},{"date":"2023-12-20","series":"D","value":3.6},{"date":"2023-12-22","series":"D","value":3.6},{"date":"2023-12-25","series":"D","value":3.6},{"date":"2023-12-26","series":"D","value":3.8},{"date":"2023-12-27","series":"D","value":4.3},{"date":"2023-12-28","series":"D","value":4.4},{"date":"2023-12-29","series":"D","value":4.0},{"date":"2024-01-01","series":"D","value":3.6},{"date":"2024-01-02","series":"D","value":3.2},{"date":"2024-01-03","series":"D","value":2.9},{"date":"2024-01-04","series":"D","value":2.7},{"date":"2024-01-05","series":"D","value":2.65},{"date":"2024-01-08","series":"D","value":2.6},{"date":"2024-01-09","series":"D","value":2.43},{"date":"2024-01-10","series":"D","value":2.35},{"date":"2024-01-11","series":"D","value":2.5},{"date":"2024-01-12","series":"D","value":2.7},{"date":"2024-01-15","series":"D","value":2.87},{"date":"2024-01-16","series":"D","value":2.1},{"date":"2024-01-17","series":"D","value":1.5},{"date":"2024-01-18","series":"D","value":1.43},{"date":"2024-01-19","series":"D","value":1.5},{"date":"2024-01-22","series":"D","value":1.66},{"date":"2024-01-23","series":"D","value":1.32},{"date":"2024-01-24","series":"D","value":1.4},{"date":"2024-01-25","series":"D","value":1.43},{"date":"2024-01-26","series":"D","value":1.43},{"date":"2024-01-29","series":"D","value":1.6},{"date":"2024-01-30","series":"D","value":1.8},{"date":"2024-01-31","series":"D","value":2.2},{"date":"2024-02-01","series":"D","value":2.87},{"date":"2024-02-02","series":"D","value":1.8},{"date":"2024-02-05","series":"D","value":0.88},{"date":"2024-02-06","series":"D","value":1.3},{"date":"2024-02-07","series":"D","value":1.1},{"date":"2024-02-08","series":"D","value":1.1},{"date":"2024-02-09","series":"D","value":1.0},{"date":"2024-02-12","series":"D","value":0.88},{"date":"2024-02-13","series":"D","value":0.33},{"date":"2024-02-14","series":"D","value":0.6},{"date":"2024-02-15","series":"D","value":0.77},{"date":"2024-02-16","series":"D","value":0.66},{"date":"2024-02-19","series":"D","value":0.8},{"date":"2024-02-20","series":"D","value":0.8},{"date":"2024-02-21","series":"D","value":0.55},{"date":"2024-02-22","series":"D","value":0.77},{"date":"2024-02-23","series":"D","value":0.9},{"date":"2024-02-26","series":"D","value":0.99},{"date":"2024-02-27","series":"D","value":0.88},{"date":"2024-02-28","series":"D","value":1.05},{"date":"2024-02-29","series":"D","value":1.2},{"date":"2024-03-01","series":"D","value":1.32},{"date":"2024-03-04","series":"D","value":1.32},{"date":"2024-03-05","series":"D","value":1.88},{"date":"2024-03-06","series":"D","value":2.2},{"date":"2024-03-07","series":"D","value":2.4},{"date":"2024-03-08","series":"D","value":2.65},{"date":"2024-03-11","series":"D","value":2.43},{"date":"2024-03-12","series":"D","value":2.35},{"date":"2024-03-13","series":"D","value":2.0},{"date":"2024-03-14","series":"D","value":1.6},{"date":"2024-03-15","series":"D","value":1.4},{"date":"2024-03-18","series":"D","value":1.32},{"date":"2024-03-19","series":"D","value":1.32},{"date":"2024-03-20","series":"D","value":1.32},{"date":"2024-03-21","series":"D","value":1.35},{"date":"2024-03-22","series":"D","value":1.43},{"date":"2024-03-25","series":"D","value":1.5},{"date":"2024-03-26","series":"D","value":1.6},{"date":"2024-03-27","series":"D","value":1.7},{"date":"2024-03-28","series":"D","value":1.77},{"date":"2024-03-29","series":"D","value":1.3},{"date":"2024-04-01","series":"D","value":0.95},{"date":"2024-04-02","series":"D","value":0.9},{"date":"2024-04-03","series":"D","value":1.0},{"date":"2024-04-04","series":"D","value":1.43},{"date":"2024-04-05","series":"D","value":1.1},{"date":"2024-04-08","series":"D","value":0.88},{"date":"2024-04-09","series":"D","value":1.21},{"date":"2024-04-10","series":"D","value":0.44},{"date":"2024-04-11","series":"D","value":-0.33},{"date":"2024-04-12","series":"D","value":-0.5},{"date":"2024-04-15","series":"D","value":-0.8},{"date":"2024-04-16","series":"D","value":-1.1},{"date":"2024-04-17","series":"D","value":-0.99},{"date":"2024-04-18","series":"D","value":-0.88},{"date":"2024-04-19","series":"D","value":-1.0},{"date":"2024-04-22","series":"D","value":-0.8},{"date":"2024-04-23","series":"D","value":-0.55},{"date":"2024-04-24","series":"D","value":-0.8},{"date":"2024-04-25","series":"D","value":-0.9},{"date":"2024-04-26","series":"D","value":-0.99},{"date":"2024-04-29","series":"D","value":-0.55},{"date":"2024-04-30","series":"D","value":-1.1},{"date":"2024-05-01","series":"D","value":-0.7},{"date":"2024-05-02","series":"D","value":0.2},{"date":"2024-05-03","series":"D","value":0.4},{"date":"2024-05-06","series":"D","value":0.6},{"date":"2024-05-07","series":"D","value":0.77},{"date":"2024-05-08","series":"D","value":0.4},{"date":"2024-05-09","series":"D","value":0.3},{"date":"2024-05-10","series":"D","value":0.44},{"date":"2024-05-13","series":"D","value":0.33},{"date":"2024-05-14","series":"D","value":0.7},{"date":"2024-05-15","series":"D","value":1.3},{"date":"2024-05-16","series":"D","value":1.43},{"date":"2024-05-17","series":"D","value":1.2},{"date":"2024-05-20","series":"D","value":1.1},{"date":"2024-05-21","series":"D","value":1.1},{"date":"2024-05-22","series":"D","value":0.77},{"date":"2024-05-23","series":"D","value":0.55},{"date":"2024-05-24","series":"D","value":0.77},{"date":"2024-05-27","series":"D","value":0.6},{"date":"2024-05-28","series":"D","value":0.5},{"date":"2024-05-29","series":"D","value":-0.22},{"date":"2024-05-30","series":"D","value":0.25},{"date":"2024-05-31","series":"D","value":0.77},{"date":"2024-06-03","series":"D","value":1.2},{"date":"2024-06-04","series":"D","value":1.35},{"date":"2024-06-05","series":"D","value":1.43},{"date":"2024-06-06","series":"D","value":0.8},{"date":"2024-06-07","series":"D","value":0.3},{"date":"2024-06-10","series":"D","value":0.3},{"date":"2024-06-11","series":"D","value":0.8},{"date":"2024-06-12","series":"D","value":1.32},{"date":"2024-06-13","series":"D","value":1.1},{"date":"2024-06-14","series":"D","value":1.0},{"date":"2024-06-17","series":"D","value":1.2},{"date":"2024-06-18","series":"D","value":1.43},{"date":"2024-06-19","series":"D","value":1.2},{"date":"2024-06-20","series":"D","value":1.0},{"date":"2024-06-21","series":"D","value":1.05},{"date":"2024-06-24","series":"D","value":1.1},{"date":"2024-06-25","series":"D","value":1.0},{"date":"2024-06-26","series":"D","value":0.66},{"date":"2024-06-27","series":"D","value":0.77},{"date":"2024-06-28","series":"D","value":0.47}
]},
"encoding": {
  "x": {"field": "date", "type": "temporal",
    "scale": {"type": "utc", "domain": [{"year": 2023, "month": "jun", "date": 30, "utc": true}, {"year": 2024, "month": "jun", "date": 28, "utc": true}]},
    "axis": {"values": [{"year": 2023, "month": "jul", "date": 1, "utc": true}, {"year": 2023, "month": "sep", "date": 1, "utc": true}, {"year": 2023, "month": "nov", "date": 1, "utc": true}, {"year": 2024, "month": "jan", "date": 1, "utc": true}, {"year": 2024, "month": "mar", "date": 1, "utc": true}, {"year": 2024, "month": "may", "date": 1, "utc": true}],
      "labelExpr": "utcmonth(datum.value) == 0 || utcmonth(datum.value) == 6 ? utcFormat(datum.value, \"%b '%y\") : utcFormat(datum.value, '%b')",
      "grid": true, "gridColor": "#d2d2d2", "gridWidth": 1.5,
      "domainColor": "#000", "domainWidth": 1.5, "tickColor": "#000", "tickSize": 5,
      "labelFont": "DejaVu Sans", "labelFontSize": 14, "labelColor": "#111", "labelPadding": 1, "labelFlush": false,
      "title": "30/06/2023 - 28/06/2024 Data from FE fundinfo2024",
      "titleFont": "DejaVu Sans", "titleFontSize": 15.3, "titleFontWeight": "normal", "titleColor": "#111",
      "titleAnchor": "end", "titleAlign": "right", "titleX": 1155, "titleY": 156, "titleBaseline": "middle"}},
  "y": {"field": "value", "type": "quantitative",
    "scale": {"domain": [-15, 20], "nice": false, "zero": false},
    "axis": {"values": [-15, -10, -5, 0, 5, 10, 15, 20], "labelExpr": "datum.value + '%'", "title": null,
      "grid": true, "gridColor": "#b4b4b4", "gridWidth": 1, "gridDash": [4, 2, 1, 2],
      "domainColor": "#000", "domainWidth": 1.5, "tickColor": "#000", "tickSize": 3,
      "labelFont": "DejaVu Sans", "labelFontSize": 14, "labelColor": "#111", "labelPadding": 6}}
},
"layer": [
  {"mark": {"type": "rule", "color": "#000", "strokeWidth": 1.2, "strokeDash": [5, 2, 1, 2]}, "encoding": {"y": {"datum": 0}, "x": null}},
  {"mark": {"type": "line", "strokeWidth": 2.6, "strokeJoin": "round"},
   "encoding": {"color": {"field": "series", "type": "nominal",
     "scale": {"domain": ["A", "B", "C", "D"], "range": ["#D84FD6", "#DCE14C", "#3D7A1E", "#E24B26"]},
     "legend": {"orient": "none", "legendX": -69, "legendY": 573, "title": null, "direction": "vertical",
       "symbolType": "square", "symbolSize": 110, "symbolStrokeWidth": 0,
       "labelFont": "DejaVu Sans", "labelFontSize": 15, "labelColor": "#111", "labelOffset": 11, "labelLimit": 700, "rowPadding": 3, "padding": 0,
       "labelExpr": "datum.label == 'A' ? 'A - MSCI ACWI TR in US [19.38%]' : datum.label == 'B' ? 'B - MSCI Emerging Markets TR in US [12.55%]' : datum.label == 'C' ? 'C - FTSE EPRA Nareit Global TR in US [3.94%]' : 'D - ICE BofA Global Broad Market TR in US [0.47%]'",
       "encode": {"symbols": {"update": {"fill": {"scale": "color", "field": "value"}, "stroke": {"value": "transparent"}}}}}}}},
  {"transform": [{"aggregate": [{"op": "argmax", "field": "date", "as": "last"}], "groupby": ["series"]}],
   "mark": {"type": "text", "align": "left", "baseline": "middle", "dx": 4, "fontWeight": "bold", "fontSize": 14, "font": "DejaVu Sans", "color": "#111"},
   "encoding": {"x": {"field": "last.date", "type": "temporal"}, "y": {"field": "last.value", "type": "quantitative"}, "text": {"field": "series"}}}
]
}
